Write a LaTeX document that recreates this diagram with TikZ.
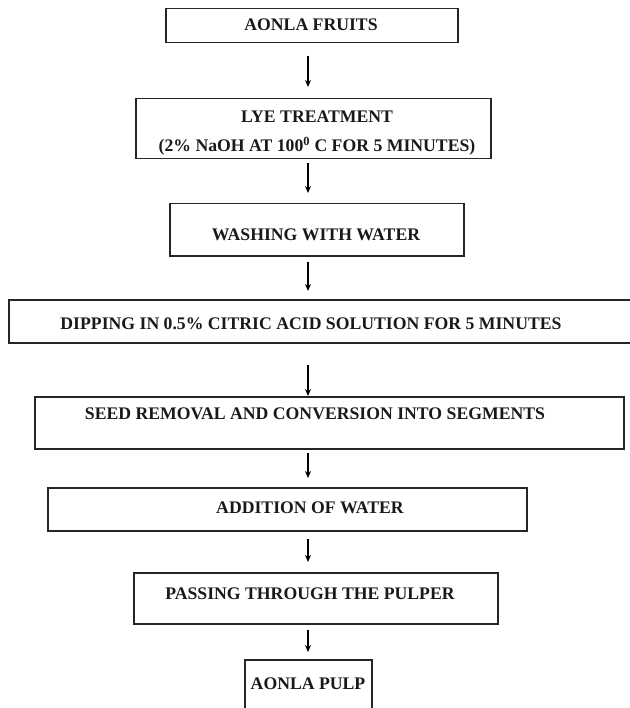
\documentclass[tikz,border=0pt]{standalone}
\usepackage{fontspec}
\setmainfont{Liberation Serif}
\usetikzlibrary{arrows.meta}
\begin{document}
\begin{tikzpicture}[x=1pt,y=-1pt,
  box/.style={draw=black!85,line width=1.5pt,rectangle,inner sep=0pt},
  lbl/.style={font=\bfseries\fontsize{17.7}{34}\selectfont,inner sep=0pt,align=center,text=black!90},
  arr/.style={draw=black,line width=1.1pt,-{Stealth[length=7pt,width=6pt]}}]
\useasboundingbox (0,0) rectangle (629,708);
% boxes (drawn by corners)
\node[box,minimum width=292pt,minimum height=34pt,anchor=north west] (b1) at (165,8) {};
\node[lbl] (t1) at (311,25) {AONLA FRUITS};
\node[box,minimum width=355pt,minimum height=60pt,anchor=north west] (b2) at (135,98) {};
\node[lbl] (t2a) at (317,117) {LYE TREATMENT};
\node[lbl] (t2b) at (317,146) {(2\% NaOH AT 100\textsuperscript{0} C FOR 5 MINUTES)};
\node[box,minimum width=294pt,minimum height=52pt,anchor=north west] (b3) at (169,203) {};
\node[lbl] (t3) at (316,235) {WASHING WITH WATER};
\node[box,minimum width=640pt,minimum height=43pt,anchor=north west] (b4) at (8,299) {};
\node[lbl] (t4) at (311,324) {DIPPING IN 0.5\% CITRIC ACID SOLUTION FOR 5 MINUTES};
\node[box,minimum width=589pt,minimum height=52pt,anchor=north west] (b5) at (34,396) {};
\node[lbl] (t5) at (315,414) {SEED REMOVAL AND CONVERSION INTO SEGMENTS};
\node[box,minimum width=479pt,minimum height=43pt,anchor=north west] (b6) at (47,487) {};
\node[lbl] (t6) at (310,508) {ADDITION OF WATER};
\node[box,minimum width=364pt,minimum height=51pt,anchor=north west] (b7) at (133,572) {};
\node[lbl] (t7) at (310,594) {PASSING THROUGH THE PULPER};
\node[box,minimum width=127pt,minimum height=60pt,anchor=north west] (b8) at (244,659) {};
\node[lbl] (t8) at (308,684) {AONLA PULP};
% arrow end points
\coordinate (a1s) at (308,56);  \coordinate (a1e) at (308,87);
\coordinate (a2s) at (308,163); \coordinate (a2e) at (308,193);
\coordinate (a3s) at (308,262); \coordinate (a3e) at (308,291);
\coordinate (a4s) at (308,365); \coordinate (a4e) at (308,396);
\coordinate (a5s) at (308,453); \coordinate (a5e) at (308,478);
\coordinate (a6s) at (308,539); \coordinate (a6e) at (308,562);
\coordinate (a7s) at (308,630); \coordinate (a7e) at (308,652);
\foreach \i in {1,...,7} {\draw[arr] (a\i s) -- (a\i e);}
\end{tikzpicture}
\end{document}
